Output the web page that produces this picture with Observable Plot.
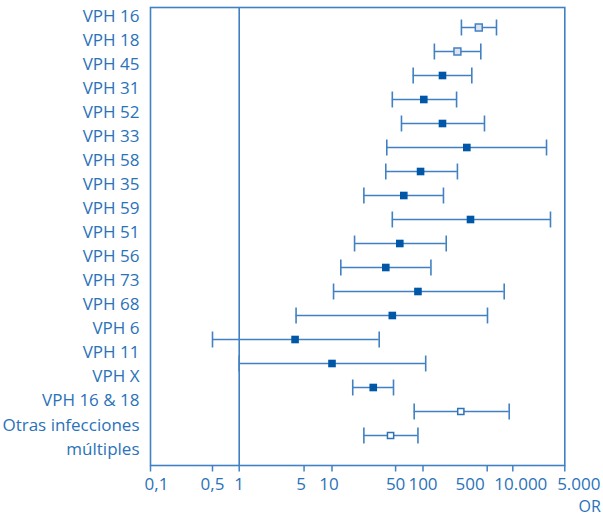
<!DOCTYPE html>
<html>
<head>
<meta charset="utf-8">
<script src="https://cdn.jsdelivr.net/npm/d3@7"></script>
<script src="https://cdn.jsdelivr.net/npm/@observablehq/plot@0.6"></script>
<style>
  body { margin: 0; background: #fff; }
</style>
</head>
<body>
<div id="chart"></div>
<script>
// Tipos de VPH (categorías, de arriba abajo)
const tipos = ["VPH 16", "VPH 18", "VPH 45", "VPH 31", "VPH 52", "VPH 33", "VPH 58", "VPH 35",
  "VPH 59", "VPH 51", "VPH 56", "VPH 73", "VPH 68", "VPH 6", "VPH 11", "VPH X",
  "VPH 16 & 18", "Otras infecciones\nmúltiples"];
// Odds ratio (estimación puntual)
const oddsRatio = [405, 237, 163, 102, 163, 300, 94, 61.5, 329, 55.6, 39, 88, 46, 4.0, 10, 28.4, 258, 44];
// Intervalo de confianza: límite inferior
const icInferior = [262, 133, 78, 46, 58, 40, 39, 22.4, 46, 17.7, 12.5, 10.4, 4.1, 0.5, 1.0, 16.9, 80, 22.4];
// Intervalo de confianza: límite superior
const icSuperior = [643, 426, 340, 232, 467, 2840, 237, 167, 3210, 179, 122, 792, 504, 33, 107, 47.4, 907, 88];
// Tipo de marcador
const marcador = ["claro", "claro", "relleno", "relleno", "relleno", "relleno", "relleno", "relleno",
  "relleno", "relleno", "relleno", "relleno", "relleno", "relleno", "relleno", "relleno",
  "abierto", "abierto"];
// Marcas del eje x
const tickValores = [0.1, 0.5, 1, 5, 10, 50, 100, 500, 1000, 5000];
const tickEtiquetas = ["0,1", "0,5", "1", "5", "10", "50", "100", "500", "10.000", "5.000"];

const filas = tipos.map((t, i) => ({tipo: t, or: oddsRatio[i], lo: icInferior[i], hi: icSuperior[i], m: marcador[i]}));
const etiqueta = new Map(tickValores.map((v, i) => [v, tickEtiquetas[i]]));
const fmt = (v) => etiqueta.get(v) ?? "";

const textColor = "#2a72b9";
const lineColor = "#4181c3";
const fillColor = "#0057a7";
const fs = 17;

// vertical bar symbol for whisker caps and axis ticks
const barra = {
  draw(context, size) {
    const h = Math.sqrt(size) / 2;
    context.moveTo(0, -h);
    context.lineTo(0, h);
  }
};

const tickText = (ticks, dx) => Plot.text(ticks, {
  x: d => d, text: fmt, frameAnchor: "bottom", dy: 24, dx, fontSize: fs, fill: textColor
});

const chart = Plot.plot({
  width: 603,
  height: 518,
  marginLeft: 150,
  marginRight: 38.7,
  marginTop: 7,
  marginBottom: 53,
  style: {fontFamily: "'Open Sans', sans-serif", fontSize: fs + "px", color: textColor, background: "#fff"},
  x: {
    type: "log",
    axis: null,
    domain: [0.1, 1, 10, 100, 500, 1000, 5000],
    range: [150, 238.7, 331.5, 422.5, 486.7, 512.3, 564.3]
  },
  y: {type: "point", domain: tipos, range: [25.5, 436], padding: 0},
  marks: [
    Plot.frame({stroke: lineColor, strokeWidth: 1.6}),
    Plot.ruleX([1], {stroke: lineColor, strokeWidth: 1.6}),
    // x axis ticks
    Plot.dot(tickValores, {x: d => d, frameAnchor: "bottom", symbol: barra, r: 3.4, dy: 3, fill: "none", stroke: lineColor, strokeWidth: 1.5}),
    // x axis labels
    tickText([0.5, 1, 50, 100], 0),
    tickText([5, 10], -3),
    tickText([0.1], 6),
    tickText([500], -17),
    tickText([1000], 8),
    tickText([5000], 14),
    Plot.text(["OR"], {frameAnchor: "bottom-right", dx: 36, dy: 46, textAnchor: "end", fontSize: 16, fill: textColor}),
    // y labels
    Plot.axisY(tipos.slice(0, -1), {tickSize: 0, tickPadding: 11, dy: -11, label: null, fontSize: fs, fill: textColor}),
    Plot.axisY(tipos.slice(-1), {tickSize: 0, tickPadding: 11, label: null, fontSize: fs, lineHeight: 24 / fs, fill: textColor}),
    // intervals
    Plot.ruleY(filas, {y: "tipo", x1: "lo", x2: "hi", stroke: lineColor, strokeWidth: 1.6}),
    Plot.dot(filas, {y: "tipo", x: "lo", symbol: barra, r: 9, fill: "none", stroke: lineColor, strokeWidth: 1.6}),
    Plot.dot(filas, {y: "tipo", x: "hi", symbol: barra, r: 9, fill: "none", stroke: lineColor, strokeWidth: 1.6}),
    // points
    Plot.dot(filas, {filter: d => d.m === "relleno", x: "or", y: "tipo", symbol: "square", r: 4.3, fill: fillColor, stroke: "none"}),
    Plot.dot(filas, {filter: d => d.m === "claro", x: "or", y: "tipo", symbol: "square", r: 3.9, fill: "#dde3f1", stroke: lineColor, strokeWidth: 1.5}),
    Plot.dot(filas, {filter: d => d.m === "abierto", x: "or", y: "tipo", symbol: "square", r: 3.5, fill: "#fff", stroke: "#2f72b8", strokeWidth: 1.5})
  ]
});
document.getElementById("chart").appendChild(chart);
</script>
</body>
</html>
